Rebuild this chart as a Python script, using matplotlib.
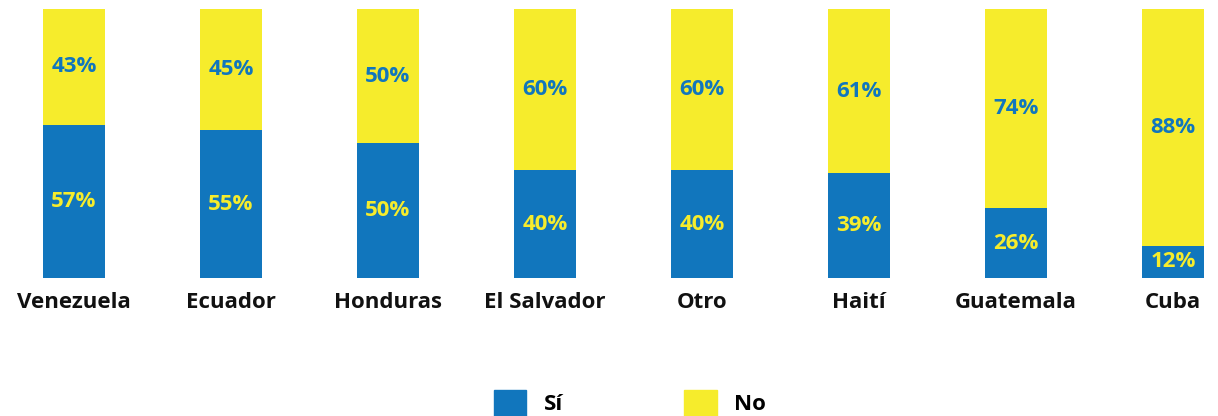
import matplotlib.pyplot as plt
from matplotlib.patches import Patch
import numpy as np

# data
paises = ['Venezuela', 'Ecuador', 'Honduras', 'El Salvador', 'Otro', 'Haití', 'Guatemala', 'Cuba']
si = [57, 55, 50, 40, 40, 39, 26, 12]
no = [43, 45, 50, 60, 60, 61, 74, 88]

azul = '#1176BD'
amarillo = '#F6EC2C'

plt.rcParams['font.family'] = ['Open Sans', 'DejaVu Sans']

fig = plt.figure(figsize=(12.18, 4.16), dpi=100)
ax = fig.add_axes([0, 0.3317, 1, 0.6467])

x = np.arange(len(paises))
w = 0.395
ax.bar(x, si, width=w, color=azul, label='Sí')
ax.bar(x, no, width=w, bottom=si, color=amarillo, label='No')

for i in range(len(paises)):
    ax.text(x[i], si[i] / 2, '%d%%' % si[i], ha='center', va='center',
            color=amarillo, fontsize=16, fontweight='bold')
    ax.text(x[i], si[i] + no[i] / 2, '%d%%' % no[i], ha='center', va='center',
            color=azul, fontsize=16, fontweight='bold')

ax.set_xlim(-0.471, 7.287)
ax.set_ylim(0, 100)
ax.set_xticks(x)
ax.set_xticklabels(paises, fontsize=16, fontweight='bold', color='#111111')
ax.tick_params(axis='x', length=0, pad=10)
ax.set_yticks([])
for s in ax.spines.values():
    s.set_visible(False)

handles = [Patch(color=azul), Patch(color=amarillo)]
fig.legend(handles, ['Sí', 'No'], loc='center', bbox_to_anchor=(0.5172, 0.031), ncol=2,
           frameon=False, prop={'size': 16, 'weight': 'bold'},
           handlelength=1.45, handleheight=1.45, handletextpad=0.8, columnspacing=5.47)

plt.savefig('out.png', dpi=100)
